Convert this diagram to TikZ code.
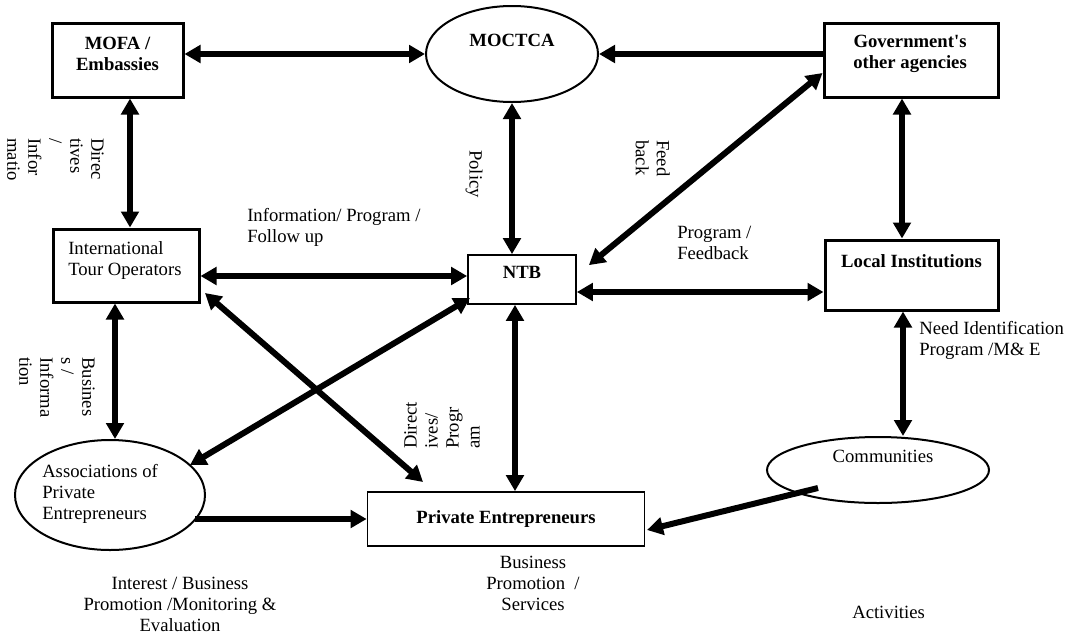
\documentclass[tikz,border=0pt]{standalone}
\usepackage{fontspec}
\setmainfont{Liberation Serif}
\usetikzlibrary{arrows.meta,shapes.geometric}
\tikzset{
  box/.style={draw, line width=2.25pt, inner sep=0pt},
  thinbox/.style={draw, line width=1.3pt, inner sep=0pt},
  ell/.style={draw, ellipse, line width=1.5pt, inner sep=0pt},
  lbl/.style={font=\fontsize{14}{15.75}\selectfont, align=center, inner sep=0pt},
  blbl/.style={lbl, font=\fontsize{14}{15.75}\selectfont\bfseries},
  tipA/.tip={Triangle[length=12pt,width=13pt]},
  con/.style={line width=4.5pt, -tipA},
  dcon/.style={line width=4.5pt, tipA-tipA},
}
\begin{document}
\begin{tikzpicture}[x=0.75pt,y=-0.75pt]
\useasboundingbox (0,0) rectangle (1070,643);
% boxes
\node[box, minimum width=131*0.75pt, minimum height=74*0.75pt] (mofa) at (117.5,60) {};
\node[blbl] (mofat) at (117.5,54) {MOFA /\\Embassies};
\node[box, minimum width=174*0.75pt, minimum height=74*0.75pt] (gov) at (911,60) {};
\node[blbl] (govt) at (910,54) {Government\textquotesingle s\\other agencies};
\node[ell, minimum width=172*0.75pt, minimum height=96*0.75pt] (moctca) at (512,54) {};
\node[blbl] (moctcat) at (512,40) {MOCTCA};
\node[box, minimum width=146*0.75pt, minimum height=73*0.75pt] (ito) at (126,265.5) {};
\node[lbl, align=left, anchor=west] (itot) at (68,260.5) {International\\Tour Operators};
\node[thinbox, minimum width=108*0.75pt, minimum height=49*0.75pt] (ntb) at (522,279.5) {};
\node[blbl] (ntbt) at (522,272) {NTB};
\node[box, minimum width=173*0.75pt, minimum height=70*0.75pt] (local) at (911.5,275) {};
\node[blbl] (localt) at (911.5,261) {Local Institutions};
\node[thinbox, minimum width=277*0.75pt, minimum height=54*0.75pt] (pe) at (506,519) {};
\node[blbl] (pet) at (506,519) {Private Entrepreneurs};
\node[ell, minimum width=190*0.75pt, minimum height=110*0.75pt] (assoc) at (110,495) {};
\node[lbl, align=left, anchor=west] (assoct) at (42,494) {Associations of\\Private\\Entrepreneurs};
\node[ell, minimum width=222*0.75pt, minimum height=66*0.75pt] (comm) at (878,470) {};
\node[lbl] (commt) at (883,456) {Communities};
% connectors
\draw[dcon] (moctca.west -| mofa.east) -- (moctca.west);
\draw[con] (moctca.east -| gov.west) -- (moctca.east);
\draw[dcon] (mofa.south -| 130,0) -- (ito.north -| 130,0);
\draw[dcon] (moctca.south) -- (ntb.north -| moctca.south);
\draw[dcon] (gov.south -| 902,0) -- (local.north -| 902,0);
\path (ntb.north east) ++(12,11) coordinate (ntbne) (gov.west) ++(0,13) coordinate (govsw);
\draw[dcon] (ntbne) -- (govsw);
\draw[dcon] (ito.east |- 0,276) -- (ntb.west |- 0,276);
\draw[dcon] (ntb.east |- 0,292) -- (local.west |- 0,292);
\draw[dcon] (ito.south -| 115,0) -- (assoc.north -| 115,0);
\coordinate (itose) at (205,293);
\coordinate (pent) at (423,482);
\draw[dcon] (itose) -- (pent);
\coordinate (ntbsw) at (470,298);
\coordinate (assocne) at (190,465);
\draw[dcon] (ntbsw) -- (assocne);
\draw[dcon] (ntb.south -| 515,0) -- (pe.north -| 515,0);
\coordinate (assoce) at (195,519);
\draw[con] (assoce) -- (pe.west);
\coordinate (commsw) at (818,488);
\coordinate (peer) at (647,530);
\draw[con] (commsw) -- (peer);
\draw[dcon] (local.south -| 903,0) -- (comm.north -| 903,0);
% connector labels
\node[lbl, rotate=-90, anchor=north west, align=left] (dirl) at (104,138) {Direc\\tives\\/\\Infor\\matio};
\node[lbl, rotate=-90] (poll) at (474,174) {Policy};
\node[lbl, rotate=-90, anchor=north west, align=left] (feedl) at (670,140) {Feed\\back};
\node[lbl, rotate=-90, anchor=north west, align=left] (busl) at (95,357) {Busines\\s /\\Informa\\tion};
\node[lbl, rotate=90, anchor=north west, align=left] (dirpl) at (404,449) {Direct\\ives/\\Progr\\am};
\node[lbl, align=left, anchor=west] (infol) at (247,227.5) {Information/ Program /\\Follow up};
\node[lbl, align=left, anchor=west] (progl) at (677,242.5) {Program /\\Feedback};
\node[lbl, align=left, anchor=west] (needl) at (919,340.5) {Need Identification\\Program /M\& E};
\node[lbl, anchor=west] (actl) at (852,612) {Activities};
\node[lbl] (busprl) at (533,583) {Business\\Promotion~ /\\Services};
\node[lbl] (intl) at (180,604) {Interest / Business\\Promotion /Monitoring \&\\Evaluation};
\end{tikzpicture}
\end{document}
